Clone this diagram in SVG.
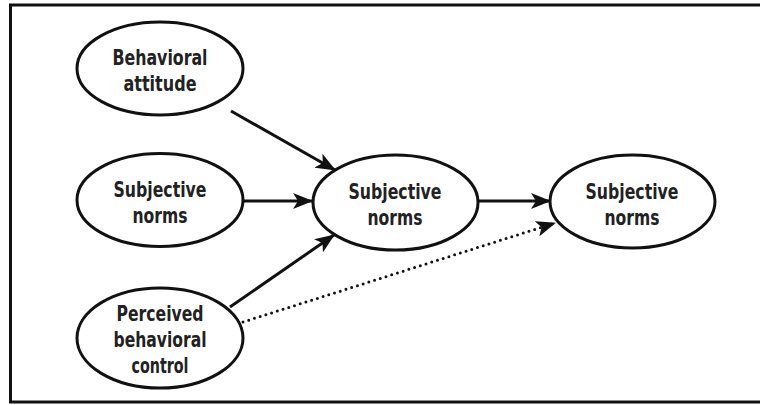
<svg xmlns="http://www.w3.org/2000/svg" width="760" height="405" viewBox="0 0 760 405">
<style>
.node ellipse{fill:#fff;stroke:#111;stroke-width:3}
.node text{font-family:"Liberation Sans Narrow","DejaVu Sans Condensed","Liberation Sans",sans-serif;font-weight:bold;font-stretch:condensed;font-size:22px;fill:#222;text-anchor:middle}
.edge{stroke:#111;stroke-width:3;fill:none}
.dot{stroke:#111;stroke-width:3;fill:none;stroke-dasharray:0 6;stroke-linecap:round}
</style>
<defs>
<marker id="ah" viewBox="0 0 20 16" refX="19" refY="8" markerWidth="20" markerHeight="16" markerUnits="userSpaceOnUse" orient="auto">
<path d="M0,0 L20,8 L0,16 L5,8 Z" fill="#111"/>
</marker>
</defs>
<rect x="10.5" y="5" width="760" height="397" fill="#fff" stroke="#111" stroke-width="3"/>
<g id="connectors">
<line class="edge" x1="231" y1="111" x2="335" y2="170" marker-end="url(#ah)"/>
<line class="edge" x1="243" y1="201" x2="312" y2="201" marker-end="url(#ah)"/>
<line class="edge" x1="230" y1="307" x2="334" y2="235" marker-end="url(#ah)"/>
<line class="edge" x1="478" y1="201" x2="550" y2="201" marker-end="url(#ah)"/>
<line class="dot" x1="243" y1="322" x2="555" y2="223" marker-end="url(#ah)"/>
</g>
<g id="n1" class="node">
<ellipse cx="160" cy="68.5" rx="83" ry="46.5"/>
<text x="160" y="65" textLength="95" lengthAdjust="spacingAndGlyphs">Behavioral</text>
<text x="160" y="91" textLength="73" lengthAdjust="spacingAndGlyphs">attitude</text>
</g>
<g id="n2" class="node">
<ellipse cx="160" cy="200" rx="83" ry="46.5"/>
<text x="160" y="197" textLength="93" lengthAdjust="spacingAndGlyphs">Subjective</text>
<text x="160" y="223" textLength="55" lengthAdjust="spacingAndGlyphs">norms</text>
</g>
<g id="n3" class="node">
<ellipse cx="160" cy="338" rx="83" ry="50"/>
<text x="160" y="321" textLength="87" lengthAdjust="spacingAndGlyphs">Perceived</text>
<text x="160" y="347" textLength="93" lengthAdjust="spacingAndGlyphs">behavioral</text>
<text x="160" y="373" textLength="57" lengthAdjust="spacingAndGlyphs">control</text>
</g>
<g id="n4" class="node">
<ellipse cx="395.5" cy="202.5" rx="82.5" ry="47.5"/>
<text x="395" y="199" textLength="93" lengthAdjust="spacingAndGlyphs">Subjective</text>
<text x="395" y="225" textLength="55" lengthAdjust="spacingAndGlyphs">norms</text>
</g>
<g id="n5" class="node">
<ellipse cx="632.5" cy="201.5" rx="82.5" ry="46.5"/>
<text x="632" y="199" textLength="93" lengthAdjust="spacingAndGlyphs">Subjective</text>
<text x="632" y="225" textLength="55" lengthAdjust="spacingAndGlyphs">norms</text>
</g>
</svg>
